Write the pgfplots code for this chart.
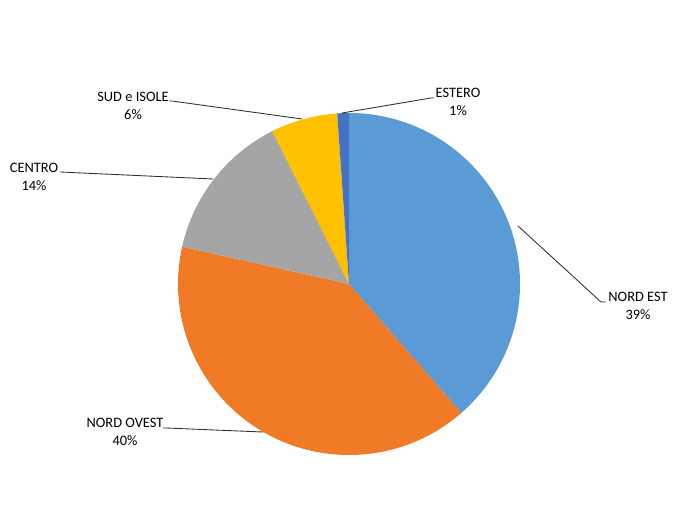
\documentclass[border=0pt]{standalone}
\usepackage{fontspec}
\setmainfont{Carlito}
\usepackage{pgfplots}
\usepackage{pgfplotstable}
\pgfplotsset{compat=1.18}

\definecolor{nordest}{HTML}{5B9BD5}
\definecolor{nordovest}{HTML}{F07A25}
\definecolor{centro}{HTML}{A5A5A5}
\definecolor{sud}{HTML}{FFC000}
\definecolor{estero}{HTML}{4472C4}
\definecolor{leader}{HTML}{303030}

% share of each area, clockwise from 12 o'clock
\pgfplotstableread{
value col
38.6  nordest
39.9  nordovest
14.1  centro
6.3   sud
1.1   estero
}\piedata

\begin{document}
\begin{tikzpicture}[font=\fontsize{10.8}{13.5}\selectfont]
\begin{axis}[
  x=0.75pt, y=0.75pt,
  xmin=0, xmax=699, ymin=0, ymax=524,
  hide axis, clip=false
]
\path (axis cs:0,0) rectangle (axis cs:699,524);
\pgfplotstablegetrowsof{\piedata}
\pgfmathtruncatemacro\nrows{\pgfplotsretval-1}
\def\angstart{90}
\pgfplotsforeachungrouped \i in {0,...,\nrows}{
  \pgfplotstablegetelem{\i}{value}\of\piedata \let\v\pgfplotsretval
  \pgfplotstablegetelem{\i}{col}\of\piedata \let\c\pgfplotsretval
  \pgfmathsetmacro\angend{\angstart-3.6*\v}
  \edef\slice{\noexpand\fill[\c] (axis cs:349,240) -- ++(\angstart:128.25pt)
    arc[start angle=\angstart, end angle=\angend, radius=128.25pt] -- cycle;}
  \slice
  \global\let\angstart\angend
}
% leader lines
\draw[leader, line width=0.65pt] (axis cs:518,298) -- (axis cs:601,222) -- (axis cs:606,222);
\draw[leader, line width=0.65pt] (axis cs:263,92) -- (axis cs:166,96) -- (axis cs:163,96);
\draw[leader, line width=0.65pt] (axis cs:213,345) -- (axis cs:60,352);
\draw[leader, line width=0.65pt] (axis cs:302,405) -- (axis cs:172,423) -- (axis cs:169,423);
\draw[leader, line width=0.65pt] (axis cs:342,411) -- (axis cs:431,426) -- (axis cs:434,426);
% labels
\node[align=center, text=black] at (axis cs:638,218) {NORD EST\\39\%};
\node[align=center, text=black] at (axis cs:125,92) {NORD OVEST\\40\%};
\node[align=center, text=black] at (axis cs:34,347) {CENTRO\\14\%};
\node[align=center, text=black] at (axis cs:133,418) {SUD e ISOLE\\6\%};
\node[align=center, text=black] at (axis cs:458,422) {ESTERO\\1\%};
\end{axis}
\end{tikzpicture}
\end{document}
